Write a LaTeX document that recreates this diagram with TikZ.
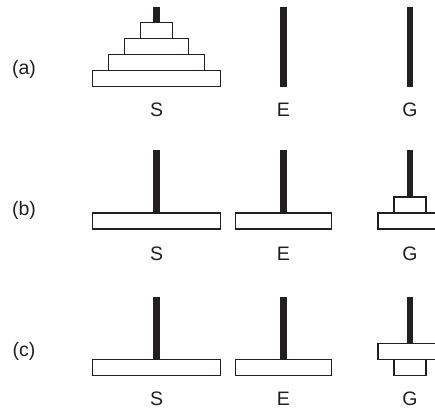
\documentclass[tikz,border=0pt]{standalone}
\usepackage{fontspec}
\setmainfont{Liberation Sans}
\usetikzlibrary{backgrounds}
\definecolor{ink}{HTML}{231F20}
\begin{document}
\begin{tikzpicture}[x=1pt,y=-1pt,
  disk/.style={draw=ink,line width=1.3pt,fill=white,rectangle,inner sep=0pt,minimum height=16pt},
  d1/.style={disk,minimum width=32pt},
  d2/.style={disk,minimum width=64pt},
  d3/.style={disk,minimum width=96pt},
  d4/.style={disk,minimum width=128pt},
  peg/.style={draw=ink,line width=6.5pt},
  lbl/.style={font=\fontsize{19.5}{22}\selectfont,text=ink,inner sep=0pt}]
\useasboundingbox (0,0) rectangle (435,409);
\clip (0,0) rectangle (435,409);
% row labels
\node[lbl] (ra) at (24,69) {(a)};
\node[lbl] (rb) at (24,210) {(b)};
\node[lbl] (rc) at (24,351) {(c)};
% ---- row (a)
\coordinate (aSt) at (156.5,7);
\coordinate (aEt) at (283.3,7);
\coordinate (aEb) at (283.3,86.5);
\coordinate (aGt) at (410,7);
\coordinate (aGb) at (410,86.5);
\node[d1] (aS1) at (156.5,30.5) {};
\node[d2] (aS2) at (156.5,46.5) {};
\node[d3] (aS3) at (156.5,62.5) {};
\node[d4] (aS4) at (156.5,78.5) {};
\node[lbl] (aSl) at (156.5,110) {S};
\node[lbl] (aEl) at (283.3,110) {E};
\node[lbl] (aGl) at (410,110) {G};
% ---- row (b)
\coordinate (bSt) at (156.5,150);
\coordinate (bEt) at (283.3,150);
\coordinate (bGt) at (410,150);
\node[d4] (bS4) at (156.5,221) {};
\node[d3] (bE3) at (283.3,221) {};
\node[d2] (bG2) at (410,221) {};
\node[d1] (bG1) at (410,205) {};
\node[lbl] (bSl) at (156.5,253.3) {S};
\node[lbl] (bEl) at (283.3,253.3) {E};
\node[lbl] (bGl) at (410,253.3) {G};
% ---- row (c)
\coordinate (cSt) at (156.5,296.7);
\coordinate (cEt) at (283.3,296.7);
\coordinate (cGt) at (410,296.7);
\node[d4] (cS4) at (156.5,367.7) {};
\node[d3] (cE3) at (283.3,367.7) {};
\node[d1] (cG1) at (410,367.7) {};
\node[d2] (cG2) at (410,351.7) {};
\node[lbl] (cSl) at (156.5,398.5) {S};
\node[lbl] (cEl) at (283.3,398.5) {E};
\node[lbl] (cGl) at (410,398.5) {G};
% pegs behind the disks
\begin{scope}[on background layer]
\draw[peg] (aSt) -- (aS1.center);
\draw[peg] (aEt) -- (aEb);
\draw[peg] (aGt) -- (aGb);
\draw[peg] (bSt) -- (bS4.center);
\draw[peg] (bEt) -- (bE3.center);
\draw[peg] (bGt) -- (bG1.center);
\draw[peg] (cSt) -- (cS4.center);
\draw[peg] (cEt) -- (cE3.center);
\draw[peg] (cGt) -- (cG2.center);
\end{scope}
\end{tikzpicture}
\end{document}
